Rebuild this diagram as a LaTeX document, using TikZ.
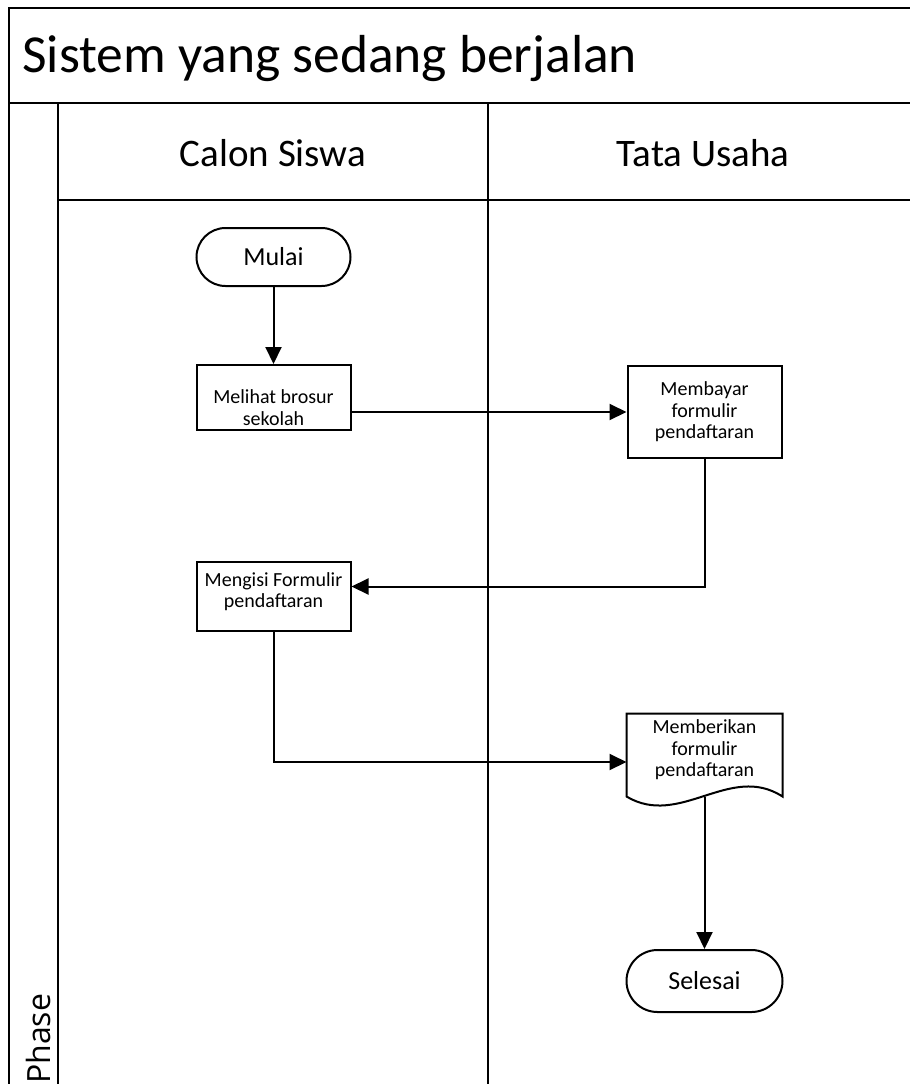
\documentclass[tikz,border=0pt]{standalone}
\usepackage{fontspec}
\setmainfont{Carlito}
\newfontfamily\phasefont{Open Sans}
\usetikzlibrary{arrows.meta}
\begin{document}
\begin{tikzpicture}[x=1bp,y=-1bp,
  frame/.style={line width=2.5bp},
  terminal/.style={draw, line width=2bp, rounded corners=29bp, minimum width=154bp, minimum height=58bp, inner sep=0pt, font=\fontsize{26bp}{30bp}\selectfont},
  procbox/.style={draw, line width=2bp, minimum width=154bp, align=center, inner sep=2bp, font=\fontsize{20bp}{21.5bp}\selectfont},
  boxtext/.style={align=center, inner sep=0pt, font=\fontsize{20bp}{21.5bp}\selectfont},
  docshape/.style={line width=2bp},
  conn/.style={line width=2bp, -{Triangle[length=17bp,width=16bp]}},
]
\useasboundingbox (0,0) rectangle (910,1084);
\fill[white] (0,0) rectangle (910,1084);
% swimlane frame
\draw[frame] (910,8) -- (9,8) -- (9,1084);
\draw[frame] (9,103) -- (910,103);
\draw[frame] (58,200) -- (910,200);
\draw[frame] (58,103) -- (58,1084);
\draw[frame] (488,103) -- (488,1084);
% headings
\node[anchor=base west, inner sep=0pt, font=\fontsize{53.5bp}{60bp}\selectfont] (title) at (22,72) {Sistem yang sedang berjalan};
\node[anchor=base, inner sep=0pt, font=\fontsize{39bp}{45bp}\selectfont] (lane1) at (273,166) {Calon Siswa};
\node[anchor=base, inner sep=0pt, font=\fontsize{39bp}{45bp}\selectfont] (lane2) at (703,166) {Tata Usaha};
\node[anchor=base west, rotate=90, inner sep=0pt, font=\phasefont\fontsize{32bp}{38bp}\selectfont] (phase) at (50,1084) {Phase};
% nodes
\node[terminal] (mulai) at (273.5,257) {Mulai};
\node[procbox, minimum height=65bp,
  label={[boxtext, yshift=-10bp]center:{Melihat brosur\\sekolah}}] (lihat) at (273.5,397.5) {};
\node[procbox, minimum height=92bp] (bayar) at (704.5,412) {Membayar\\formulir\\pendaftaran};
\node[procbox, minimum height=69bp,
  label={[boxtext, yshift=5bp]center:{Mengisi Formulir\\pendaftaran}}] (isi) at (273.5,596.5) {};
\node[procbox, draw=none, minimum height=81bp,
  label={[boxtext, yshift=5bp]center:{Memberikan\\formulir\\pendaftaran}}] (beri) at (704.5,755) {};
\draw[docshape] (beri.south west) -- (beri.north west) -- (beri.north east) -- (beri.south east)
  .. controls (730,762.5) and (680,828.5) .. (beri.south west) -- cycle;
\node[terminal, minimum width=156bp, minimum height=62bp, rounded corners=31bp] (selesai) at (704.5,981) {Selesai};
% connectors
\draw[conn] (mulai.south) -- (lihat.north);
\draw[conn] (lihat.east |- bayar.west) -- (bayar.west);
\draw[conn] (bayar.south) |- ([yshift=10bp]isi.east);
\draw[conn] (isi.south) |- ([yshift=-7bp]beri.west);
\draw[conn] (beri.south) -- (selesai.north);
\end{tikzpicture}
\end{document}
